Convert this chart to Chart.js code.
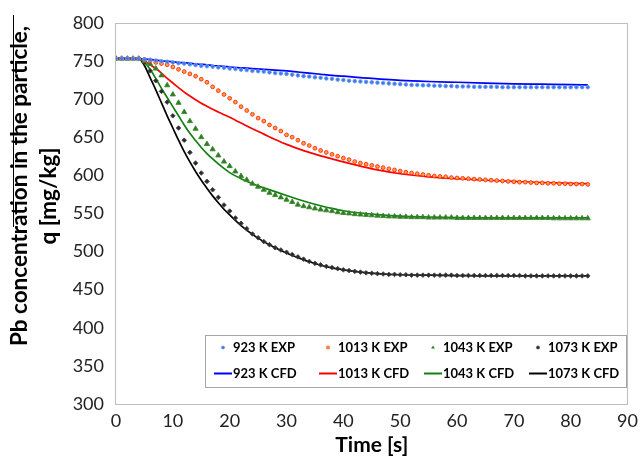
<!DOCTYPE html>
<html>
<head>
<meta charset="utf-8">
<script src="https://cdn.jsdelivr.net/npm/chart.js@4.4.0/dist/chart.umd.min.js"></script>
<style>
  body { margin: 0; background: #fff; }
  canvas { display: block; }
</style>
</head>
<body>
<canvas id="myChart" width="644" height="459"></canvas>
<script>
// experimental points, one every second
var timeExp = [0,1,2,3,4,5,6,7,8,9,10,11,12,13,14,15,16,17,18,19,20,21,22,23,24,25,26,27,28,29,
    30,31,32,33,34,35,36,37,38,39,40,41,42,43,44,45,46,47,48,49,50,51,52,53,54,55,56,57,58,59,
    60,61,62,63,64,65,66,67,68,69,70,71,72,73,74,75,76,77,78,79,80,81,82,83];

var exp923 = [753,753,753,753,753, 752,751.5,750.5,749.5,749, 748,747,746.5,745.5,744.5,
    743.5,743,742.5,741.5,741, 740,739.5,738.5,738,737, 736.5,736,735,734,733.5,
    733,732,731,730,729.5, 728.5,728,727,726.5,725.5, 725,724,723.5,723,722.5,
    722,721.5,721,720.5,720, 719.5,719,718.5,718.5,718, 718,717.5,717.5,717,717,
    716.5,716.5,716.5,716,716, 716,716,716,715.5,715.5, 715.5,715.5,715.5,715.5,715.5,
    715.5,715.5,715.5,715.5,715.5, 715.5,715.5,715.5,715.5];

var exp1013 = [753,753,753,753,753, 752,750,748,746.5,745, 742,739,736,733,730,
    726,722,716,711,706, 701,696,690,685,680, 675,671,666,662,658,
    653,650,646,642,639, 635.5,632.5,630,627.5,625, 622.5,620.5,618,616,614.5,
    613,611.5,610,608.5,607, 605.5,604,603,602,601, 600,599,598.5,598,597,
    596.5,596,595.5,595,594.5, 594,593.5,593,592.5,592, 591.5,591,591,590.5,590,
    590,589.5,589.5,589,589, 588.5,588.5,588.5,588];

var exp1043 = [753,753,753,753,753, 750,746,740,731,718, 706,695,683,671,661,
    650,641,634,626,618, 612,605,599,594,589, 585,581,577,574,571,
    568,565,561.5,559.5,558, 556.5,555,554,553,551.5, 550.5,550,549,548.5,548,
    547.5,547,546.5,546,546, 545.5,545.5,545,545,545, 544.5,544.5,544.5,544.5,544.5,
    544,544,544,544,544, 544,544,544,544,544, 544,544,544,544,544,
    544,544,543.5,543.5,543.5, 543.5,543.5,543.5,543.5];

var exp1073 = [753,753,753,753,753, 748,737,724,710,696, 678,662,646,630,616,
    603,592,581,571,561, 553,544,537,530,523, 518,513,509,505,502,
    499,496,493,490,487, 484.5,482.5,480.5,479,477.5, 476,475,474,473,472,
    471.5,471,470.5,470,470, 469.5,469.5,469,469,469, 469,469,469,469,469,
    468.5,468.5,468.5,468.5,468.5, 468.5,468.5,468.5,468.5,468.5, 468.5,468.5,468,468,468,
    468,468,468,468,468, 468,468,468,468];

// CFD curves
var timeCfd = [0,1,2,3,4,5,6,7,8,9,10,11,12,13,14,15,16,17,18,19,20,
    22,24,26,28,30,32,34,36,38,40, 43,46,50,55,60,65,70,75,80,83];

var cfd923 = [753,753,753,753,753, 752.5,752,751,750,749.5, 749,748,747.5,747,746,
    745.5,745,744,743.5,743, 742,
    741,740,739,738,737,735.5,734,732.5,731,730,
    728,726.5,724.5,723,722,721,720,719.5,719,718.5];

var cfd1013 = [753,753,753,753,753, 750,745,740,734,727, 721,715,709,704,699,
    694.5,690.5,686.5,683,679.5, 676,
    668.5,661,654,647,640.5,635,630,625.5,621.5,617.5,
    612,607,602,598,595.5,593.5,592,590.5,589.5,589];

var cfd1043 = [753,753,753,753,753, 748,739,727,714,702, 690,678,666,655,645.5,
    636.5,628.5,621.5,615,609, 603.5,
    595.5,589,583.5,578.5,573.5,568.5,564,560,556.5,553.5,
    550.5,548.5,546.5,545.3,544.5,544.2,544,544,544,544];

var cfd1073 = [753,753,753,753,753, 744,728,712,695,678, 662,646,631,617.5,605,
    593.5,583,573,564,555.5, 548,
    534,522.5,513,505,498,492,486.5,482,478.5,476,
    473,471,469.5,469,468.5,468,468,468,468,468];

var expLabels = ['923 K EXP', '1013 K EXP', '1043 K EXP', '1073 K EXP'];
var cfdLabels = ['923 K CFD', '1013 K CFD', '1043 K CFD', '1073 K CFD'];

var xTicks = { min: 0, max: 90, step: 10 };
var yTicks = { min: 300, max: 800, step: 50 };
var yTitle = ['Pb concentration in the particle,', 'q [mg/kg]'];

function toPoints(xs, ys) {
    return ys.map((y, i) => ({ x: xs[i], y: y }));
}

function expSet(label, values, style, radius, fill, border) {
    return {
        label: label,
        data: toPoints(timeExp, values),
        showLine: false,
        pointStyle: style,
        pointRadius: radius,
        pointBackgroundColor: fill,
        pointBorderColor: border,
        pointBorderWidth: 0.9,
        backgroundColor: fill,
        borderColor: border
    };
}

function cfdSet(label, values, color) {
    return {
        label: label,
        data: toPoints(timeCfd, values),
        borderColor: color,
        backgroundColor: color,
        borderWidth: 1.7,
        pointRadius: 0,
        cubicInterpolationMode: 'monotone',
        fill: false
    };
}

// plot frame, y title and the boxed legend inside the plot
const extras = {
    id: 'extras',
    afterDraw(chart) {
        const ctx = chart.ctx;
        const a = chart.chartArea;
        ctx.save();

        ctx.strokeStyle = '#bdbdbd';
        ctx.lineWidth = 1;
        ctx.strokeRect(Math.round(a.left) - 0.5, Math.round(a.top) + 0.5,
            Math.round(a.right - a.left), Math.round(a.bottom - a.top));

        // stray rule left of the y title
        ctx.strokeStyle = '#000';
        ctx.beginPath();
        ctx.moveTo(13.5, 15);
        ctx.lineTo(13.5, 227);
        ctx.stroke();

        ctx.fillStyle = '#000';
        ctx.font = 'bold 22.5px Lato';
        ctx.textAlign = 'center';
        ctx.textBaseline = 'alphabetic';
        [[27, 186], [56, 196]].forEach((p, i) => {
            ctx.save();
            ctx.translate(p[0], p[1]);
            ctx.rotate(-Math.PI / 2);
            ctx.fillText(yTitle[i], 0, 0);
            ctx.restore();
        });

        // legend box
        const bx = a.left + 89, by = a.bottom - 69, bw = 421, bh = 52;
        ctx.fillStyle = '#fff';
        ctx.fillRect(bx, by, bw, bh);
        ctx.strokeStyle = '#a6a6a6';
        ctx.strokeRect(bx + 0.5, by + 0.5, bw, bh);

        ctx.font = 'bold 13px Lato';
        ctx.textAlign = 'left';
        ctx.textBaseline = 'middle';
        const ds = chart.data.datasets;
        for (let i = 0; i < 8; i++) {
            const d = ds[i];
            const col = i % 4;
            const row = i < 4 ? 0 : 1;
            const cx = bx + 18 + col * 105;
            const cy = by + 12.5 + row * 26;
            if (row === 0) {
                ctx.fillStyle = d.pointBackgroundColor;
                ctx.strokeStyle = d.pointBorderColor;
                ctx.lineWidth = 0.6;
                Chart.helpers.drawPoint(ctx, {
                    pointStyle: d.pointStyle === 'rectRot' ? 'circle' : d.pointStyle,
                    radius: 1.6, borderWidth: 0.6
                }, cx, cy);
            } else {
                ctx.strokeStyle = d.borderColor;
                ctx.lineWidth = 2;
                ctx.beginPath();
                ctx.moveTo(cx - 9, cy);
                ctx.lineTo(cx + 9, cy);
                ctx.stroke();
            }
            ctx.fillStyle = '#000';
            ctx.fillText(d.label, cx + 10, cy + 0.5);
        }
        ctx.restore();
    }
};

function init() {
    let data = {
        datasets: [
            expSet(expLabels[0], exp923, 'circle', 1.8, '#3b78e7', '#6a9af0'),
            expSet(expLabels[1], exp1013, 'circle', 1.9, '#ffa040', '#ff2a10'),
            expSet(expLabels[2], exp1043, 'triangle', 3, '#2e7a24', '#3d8a30'),
            expSet(expLabels[3], exp1073, 'rectRot', 2.3, '#2b2b2b', '#444444'),
            cfdSet(cfdLabels[0], cfd923, '#0000ff'),
            cfdSet(cfdLabels[1], cfd1013, '#ff0000'),
            cfdSet(cfdLabels[2], cfd1043, '#108010'),
            cfdSet(cfdLabels[3], cfd1073, '#000000')
        ]
    };

    let tickFont = { family: 'Lato', size: 18 };

    let config = {
        type: 'line',
        data,
        options: {
            responsive: false,
            animation: false,
            layout: { padding: { left: 0, right: 14, top: 22, bottom: 0 } },
            plugins: {
                legend: { display: false },
                tooltip: { enabled: false }
            },
            scales: {
                x: {
                    type: 'linear',
                    min: xTicks.min,
                    max: xTicks.max,
                    grid: { display: false, drawTicks: false },
                    border: { display: false },
                    ticks: { stepSize: xTicks.step, padding: 6, color: '#222', font: tickFont, maxRotation: 0 },
                    title: {
                        display: true,
                        text: 'Time [s]',
                        color: '#000',
                        font: { family: 'Lato', size: 21, weight: 'bold' },
                        padding: { top: 0, bottom: 1 }
                    },
                    afterFit: (scale) => { scale.height = 55; }
                },
                y: {
                    type: 'linear',
                    min: yTicks.min,
                    max: yTicks.max,
                    grid: { display: false, drawTicks: false },
                    border: { display: false },
                    ticks: { stepSize: yTicks.step, padding: 12, color: '#222', font: tickFont },
                    afterFit: (scale) => { scale.width = 116; }
                }
            }
        },
        plugins: [extras]
    };

    myChart = new Chart(document.getElementById('myChart'), config);
}

init();
</script>
</body>
</html>
